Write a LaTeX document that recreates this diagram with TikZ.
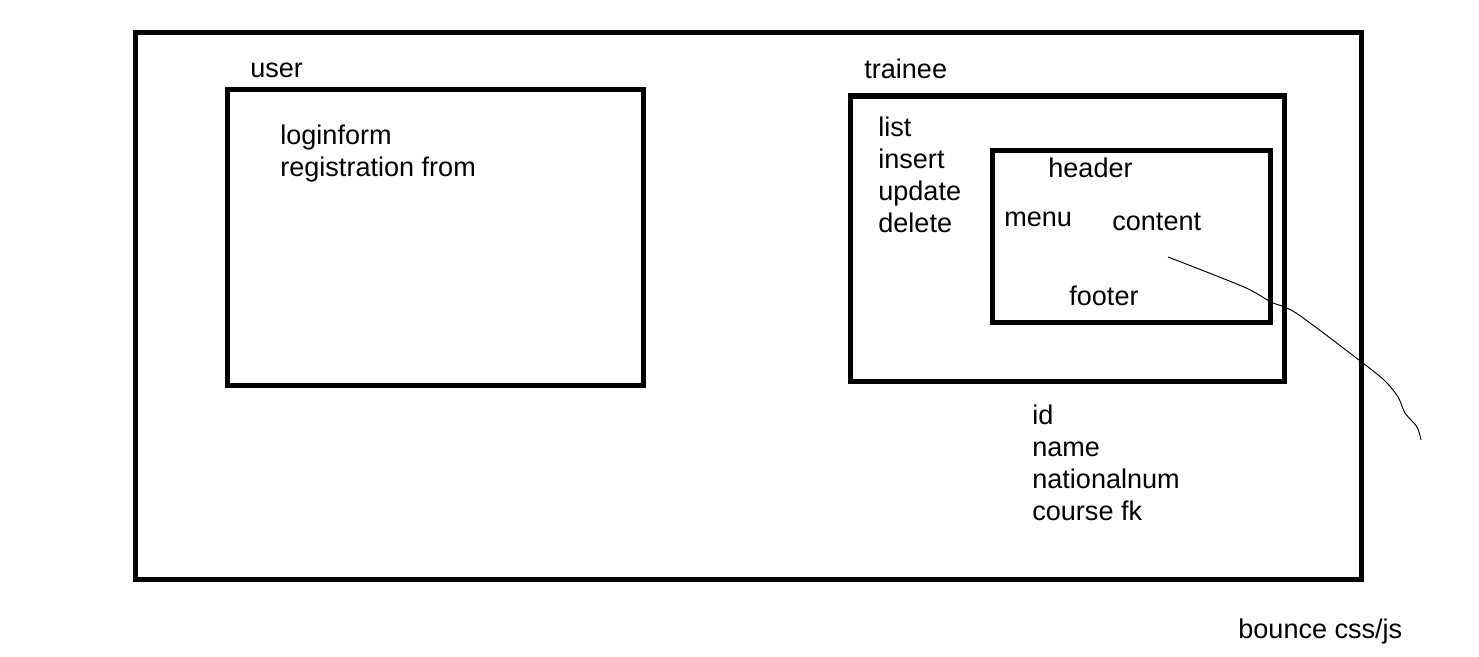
\documentclass[tikz,border=0pt]{standalone}
\usepackage{fontspec}
\setmainfont{Liberation Sans}

\tikzset{
  frame/.style={line width=2.85pt},
  lbl/.style={anchor=base west, inner sep=0pt, font=\fontsize{15.4}{18.2}\selectfont}
}

\begin{document}
\begin{tikzpicture}[x=0.02cm, y=-0.02cm]
\useasboundingbox (0,0) rectangle (1479,656);
\draw[frame] (135.5,32.5) rectangle (1361.5,579);
% user box
\draw[frame] (227.5,89.5) rectangle (643.5,385);
\node[lbl] (user) at (250,77) {user};
\node[lbl] (login) at (280,144) {loginform};
\node[lbl] (regform) at (280,176) {registration from};
% trainee box
\draw[frame] (850,96) rectangle (1284,381);
\node[lbl] (trainee) at (864,78) {trainee};
\foreach \t [count=\i] in {list,insert,update,delete}
  \node[lbl] (op\i) at (878,{136+32*(\i-1)}) {\t};
\draw[frame] (992.5,150.5) rectangle (1270.5,322);
\node[lbl] (header) at (1048,177) {header};
\node[lbl] (menu) at (1004,226) {menu};
\node[lbl] (content) at (1112,230) {content};
\node[lbl] (footer) at (1069,305) {footer};
\foreach \t [count=\i] in {id,name,nationalnum,course fk}
  \node[lbl] (field\i) at (1032,{424+32*(\i-1)}) {\t};
\node[lbl] (bounce) at (1238,638) {bounce css/js};
% pen stroke
\draw[line width=0.55pt] plot[smooth] coordinates {(1168,257) (1244,287) (1271,302) (1296,313) (1355,357) (1384,380) (1398,397) (1405,413) (1417,427) (1421,440)};
\end{tikzpicture}
\end{document}
